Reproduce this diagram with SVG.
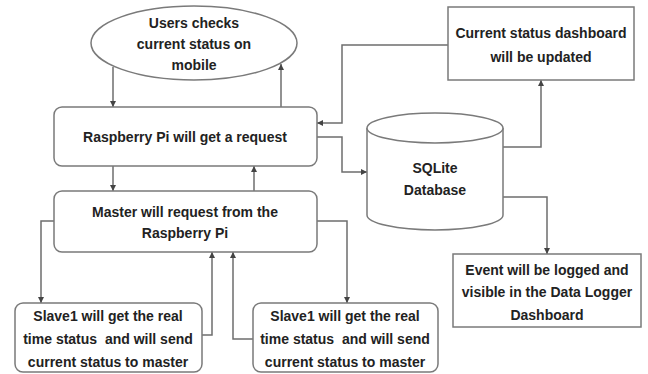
<svg xmlns="http://www.w3.org/2000/svg" width="648" height="374" viewBox="0 0 648 374">
<defs>
<style>
.n{fill:#fff;stroke:#7a7a7a;stroke-width:1.5}
.t{font-family:"Liberation Sans",Arial,sans-serif;font-weight:bold;font-size:14px;fill:#222;text-anchor:middle;white-space:pre}
.c{fill:none;stroke:#6e6e6e;stroke-width:1.5}
</style>
<marker id="a" viewBox="0 0 6 6" refX="6" refY="3" markerWidth="4" markerHeight="4" orient="auto"><path d="M0,0L6,3L0,6z" fill="#444"/></marker>
</defs>
<rect width="648" height="374" fill="#fff"/>
<g id="connectors">
<path class="c" d="M113,67V107" marker-end="url(#a)"/>
<path class="c" d="M281,107V64" marker-end="url(#a)"/>
<path class="c" d="M113,166V191" marker-end="url(#a)"/>
<path class="c" d="M254,191V166" marker-end="url(#a)"/>
<path class="c" d="M54,221H41V303" marker-end="url(#a)"/>
<path class="c" d="M202,335H212V252" marker-end="url(#a)"/>
<path class="c" d="M253,339H233V252" marker-end="url(#a)"/>
<path class="c" d="M317,221H347V303" marker-end="url(#a)"/>
<path class="c" d="M448,45H342V123H317" marker-end="url(#a)"/>
<path class="c" d="M317,137H342V172H367" marker-end="url(#a)"/>
<path class="c" d="M503,147H541V80" marker-end="url(#a)"/>
<path class="c" d="M503,197H547V254" marker-end="url(#a)"/>
</g>
<g id="user">
<ellipse class="n" cx="194" cy="43" rx="103" ry="37"/>
<text class="t" x="194" y="28">Users checks</text>
<text class="t" x="194" y="49">current status on</text>
<text class="t" x="194" y="70">mobile</text>
</g>
<g id="raspberry">
<rect class="n" x="54" y="107" width="263" height="59" rx="8"/>
<text class="t" x="185" y="142">Raspberry Pi will get a request</text>
</g>
<g id="master">
<rect class="n" x="54" y="191" width="263" height="61" rx="8"/>
<text class="t" x="185" y="217">Master will request from the</text>
<text class="t" x="185" y="238">Raspberry Pi</text>
</g>
<g id="slave1">
<rect class="n" x="15" y="303" width="187" height="69" rx="8"/>
<text class="t" x="108" y="321">Slave1 will get the real</text>
<text class="t" x="108" y="344">time status  and will send</text>
<text class="t" x="108" y="367">current status to master</text>
</g>
<g id="slave2">
<rect class="n" x="253" y="303" width="185" height="69" rx="8"/>
<text class="t" x="345" y="321">Slave1 will get the real</text>
<text class="t" x="345" y="344">time status  and will send</text>
<text class="t" x="345" y="367">current status to master</text>
</g>
<g id="database">
<path class="n" d="M367,128V215A68,15 0 0 0 503,215V128"/>
<ellipse class="n" cx="435" cy="128" rx="68" ry="15"/>
<text class="t" x="435" y="173">SQLite</text>
<text class="t" x="435" y="195">Database</text>
</g>
<g id="dashboard">
<rect class="n" x="448" y="7" width="186" height="73"/>
<text class="t" x="541" y="38">Current status dashboard</text>
<text class="t" x="541" y="62">will be updated</text>
</g>
<g id="event">
<rect class="n" x="453" y="254" width="188" height="73"/>
<text class="t" x="547" y="275">Event will be logged and</text>
<text class="t" x="547" y="297">visible in the Data Logger</text>
<text class="t" x="547" y="320">Dashboard</text>
</g>
</svg>
